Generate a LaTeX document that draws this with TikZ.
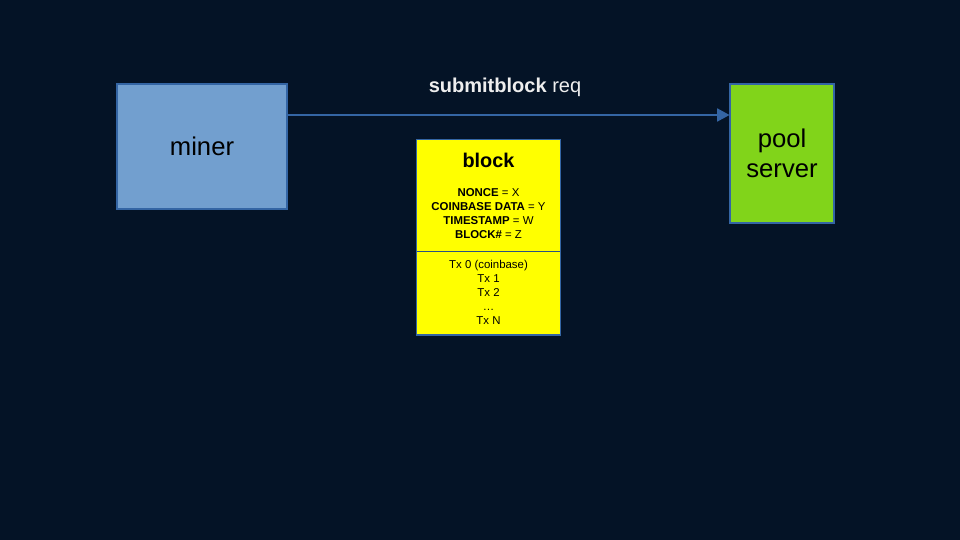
\documentclass[tikz,border=0pt]{standalone}
\usepackage{fontspec}
\setmainfont{Liberation Sans}
\usetikzlibrary{arrows.meta,positioning}
\definecolor{slidebg}{HTML}{041326}
\definecolor{minerblue}{HTML}{729FCF}
\definecolor{edgeblue}{HTML}{3465A4}
\definecolor{poolgreen}{HTML}{81D41A}
\definecolor{captiongrey}{HTML}{EEEEEE}
\definecolor{blockyellow}{RGB}{255,255,0}
\tikzset{
	box/.style={draw=edgeblue, line width=0.6pt, inner sep=0pt, align=center, text=black},
	bigtext/.style={font=\fontsize{14.6}{17}\selectfont},
	smalltext/.style={align=center, text=black, inner sep=0pt, font=\fontsize{6.5}{7.9}\selectfont},
	blockpart/.style={fill=blockyellow, inner sep=0pt, minimum width=2.86cm}
}

\begin{document}
\begin{tikzpicture}[x=0.02cm, y=-0.02cm]
		%%%%% START %%%%%
		
		\fill[slidebg] (0, 0) rectangle (960, 540);
		
		% miner and pool server
		\node[box, bigtext, fill=minerblue, minimum width=3.4cm, minimum height=2.5cm] (miner) at (202, 146.5) {miner};
		\node[box, bigtext, fill=poolgreen, minimum width=2.08cm, minimum height=2.78cm] (pool) at (782, 153.5) {pool\\server};
		
		% request
		\coordinate (reqline) at (0, 115);
		\draw[edgeblue, line width=0.6pt, -{Triangle[length=7pt, width=7.5pt]}] (miner.east |- reqline) -- (pool.west |- reqline);
		\node[text=captiongrey, font=\fontsize{11.4}{13}\selectfont] (reqlabel) at (505, 87) {\textbf{submitblock} req};
		
		% block
		\node[blockpart, minimum height=2.22cm] (blocktop) at (488.5, 195.5) {};
		\node[blockpart, minimum height=1.66cm, below=0pt of blocktop] (blockbody) {};
		\draw[edgeblue!80!black, line width=0.4pt] (blocktop.south west) -- (blocktop.south east);
		\draw[edgeblue, line width=0.6pt] (blocktop.north west) rectangle (blockbody.south east);
		
		\node[text=black, inner sep=0pt, font=\fontsize{11.3}{13}\selectfont\bfseries] (blockname) at (488.5, 160) {block};
		\node[smalltext] (blockfields) at (488.5, 213.5) {\textbf{NONCE} = X\\\textbf{COINBASE DATA} = Y\\\textbf{TIMESTAMP} = W\\\textbf{BLOCK\#} = Z};
		\node[smalltext] (txlist) at (488.5, 292.5) {Tx 0 (coinbase)\\Tx 1\\Tx 2\\…\\Tx N};
		
		%%%%% END %%%%%
	\end{tikzpicture}
\end{document}
